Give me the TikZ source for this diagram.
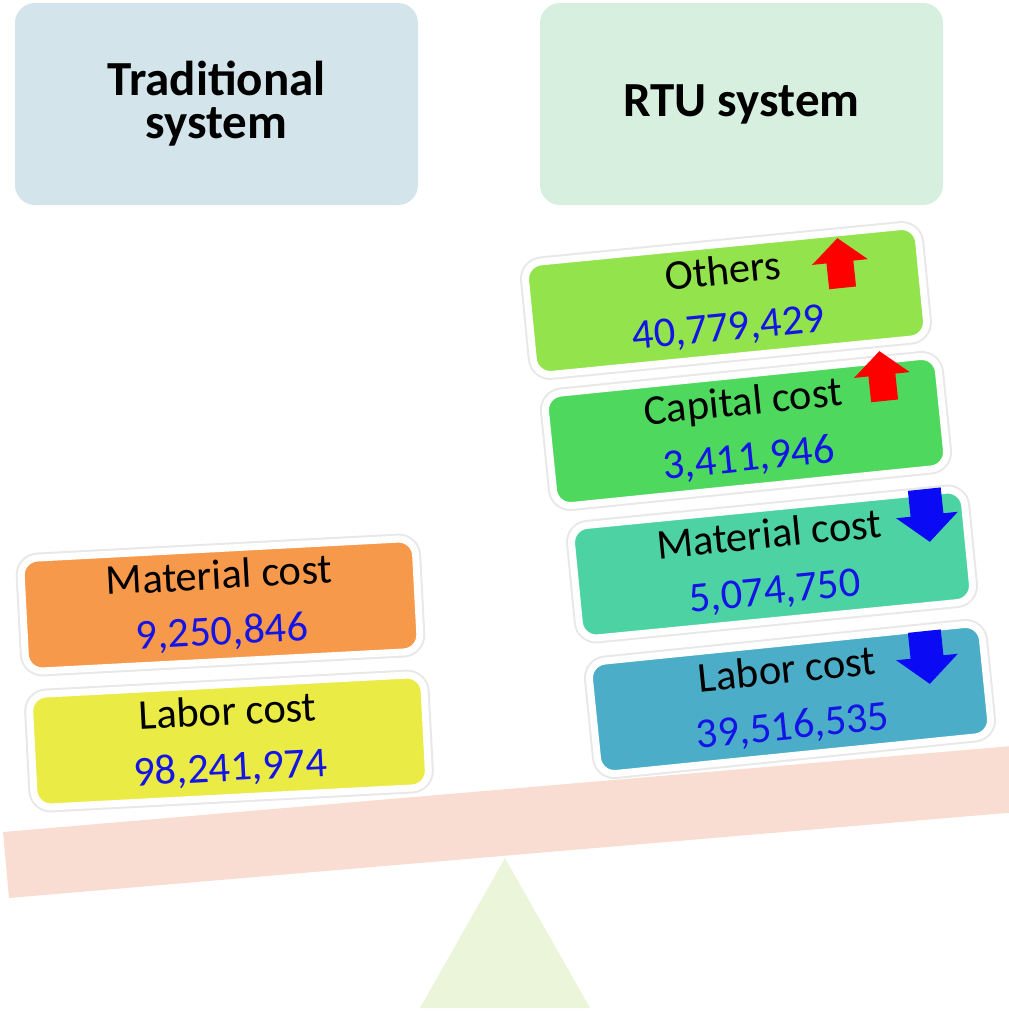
\documentclass[tikz,border=0pt]{standalone}
\usepackage{fontspec}
\setmainfont{Carlito}
\usetikzlibrary{shadows}
\definecolor{hdrL}{HTML}{D3E4EB}
\definecolor{hdrR}{HTML}{D6EFDF}
\definecolor{cOrange}{HTML}{F7994A}
\definecolor{cYellow}{HTML}{EBEB45}
\definecolor{cOthers}{HTML}{93E34D}
\definecolor{cCapital}{HTML}{4ED95E}
\definecolor{cMatR}{HTML}{4DD3A3}
\definecolor{cLabR}{HTML}{4BADC7}
\definecolor{cBeam}{HTML}{F9DDD3}
\definecolor{cTri}{HTML}{EBF5D9}
\definecolor{numblue}{HTML}{1414E6}
\definecolor{arrRed}{HTML}{FF0000}
\definecolor{arrBlue}{HTML}{0A0AF5}
\begin{document}
\begin{tikzpicture}[x=1pt,y=-1pt,
  hdrbox/.style={rounded corners=20pt, minimum width=403pt, minimum height=202pt,
    inner sep=0pt, align=center, font=\bfseries\fontsize{49}{43}\selectfont},
  costbox/.style={draw=white, line width=7pt, rounded corners=17pt,
    minimum width=395pt, minimum height=113pt, inner sep=0pt, align=center,
    font=\fontsize{42.5}{56}\selectfont,
    drop shadow={opacity=0.25, shadow xshift=2pt, shadow yshift=-4pt},
    preaction={draw=black!9, line width=11pt}},
  uparrow/.pic={\fill[arrRed] (0,-25) -- (28,-1) -- (13.5,-1) -- (13.5,25)
      -- (-13.5,25) -- (-13.5,-1) -- (-28,-1) -- cycle;},
  downarrow/.pic={\fill[arrBlue] (0,27) -- (31,0) -- (16.5,0) -- (16.5,-26)
      -- (-16.5,-26) -- (-16.5,0) -- (-31,0) -- cycle;}
]
\useasboundingbox (0,0) rectangle (1009,1015);

% balance
\fill[cBeam] (3,832) -- (1012,746) -- (1018,812) -- (9,898) -- cycle;
\fill[cTri] (505,858) -- (590,1008) -- (420,1008) -- cycle;

% headers
\node[hdrbox, fill=hdrL] (trad) at (216.5,104) {Traditional\\system};
\node[hdrbox, fill=hdrR] (rtu) at (741.5,104) {RTU system};

% traditional side
\node[costbox, fill=cOrange, rotate=3] (lmat) at (220.5,605)
  {Material cost\\\textcolor{numblue}{9,250,846}};
\node[costbox, fill=cYellow, rotate=3] (llab) at (229,741)
  {Labor cost\\\textcolor{numblue}{98,241,974}};

% RTU side
\node[costbox, fill=cOthers, rotate=5.6] (roth) at (726,300.5)
  {Others\\\textcolor{numblue}{40,779,429}};
\node[costbox, fill=cCapital, rotate=5.8] (rcap) at (746,431)
  {Capital cost\\\textcolor{numblue}{3,411,946}};
\node[costbox, fill=cMatR, rotate=5.6] (rmat) at (772,564)
  {Material cost\\\textcolor{numblue}{5,074,750}};
\node[costbox, fill=cLabR, rotate=5.8] (rlab) at (790,699)
  {Labor cost\\\textcolor{numblue}{39,516,535}};

% trend arrows
\pic[rotate=6] at (840,263) {uparrow};
\pic[rotate=6] at (882,376) {uparrow};
\pic[rotate=6] at (927,515) {downarrow};
\pic[rotate=6] at (927,657) {downarrow};
\end{tikzpicture}
\end{document}
